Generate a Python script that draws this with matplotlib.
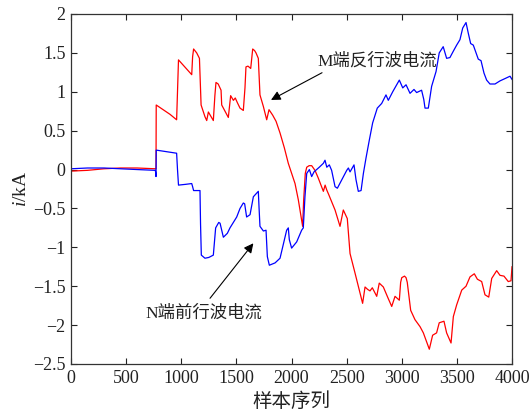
import matplotlib
matplotlib.use("Agg")
import matplotlib.pyplot as plt

plt.rcParams['font.family'] = ['Liberation Serif', 'Noto Sans CJK SC']
plt.rcParams['mathtext.fontset'] = 'custom'
plt.rcParams['mathtext.rm'] = 'Liberation Serif'
plt.rcParams['mathtext.it'] = 'Liberation Serif:italic'

# M-end backward travelling-wave current (red)
red_x = [0, 150, 300, 450, 600, 765, 771, 773, 898, 958, 966, 975, 1095, 1103, 1112, 1140, 1165, 1180,
         1215, 1231, 1246, 1291, 1305, 1315, 1335, 1361, 1367, 1427, 1448, 1473, 1490, 1509, 1533, 1563,
         1578, 1587, 1605, 1630, 1648, 1665, 1678, 1699, 1714, 1745, 1775, 1796, 1829, 1860, 1896, 1935,
         1971, 2032, 2062, 2101, 2110, 2125, 2138, 2160, 2183, 2213, 2243, 2289, 2305, 2319, 2340, 2395,
         2440, 2470, 2506, 2531, 2576, 2645, 2667, 2690, 2712, 2733, 2773, 2796, 2833, 2878, 2909, 2939,
         2978, 2990, 3000, 3025, 3039, 3050, 3081, 3120, 3166, 3196, 3250, 3280, 3316, 3340, 3383, 3407,
         3447, 3468, 3498, 3544, 3583, 3619, 3658, 3686, 3725, 3755, 3789, 3816, 3861, 3891, 3927, 3966,
         3991, 4000]
red_y = [-0.02, -0.01, 0.01, 0.02, 0.02, 0.01, 0.01, 0.83, 0.71, 0.64, 1.0, 1.41, 1.22, 1.45, 1.55, 1.50,
         1.43, 0.83, 0.68, 0.63, 0.74, 0.63, 0.95, 1.12, 1.10, 1.02, 0.83, 0.67, 0.95, 0.89, 0.92, 0.86,
         0.79, 0.76, 1.05, 1.32, 1.33, 1.30, 1.55, 1.53, 1.50, 1.43, 0.96, 0.81, 0.64, 0.77, 0.70, 0.62,
         0.47, 0.28, 0.08, -0.18, -0.39, -0.73, -0.40, -0.05, 0.03, 0.05, 0.05, -0.01, -0.11, -0.28, -0.20,
         -0.26, -0.33, -0.52, -0.73, -0.52, -0.63, -1.08, -1.33, -1.72, -1.51, -1.54, -1.56, -1.52, -1.63,
         -1.46, -1.51, -1.66, -1.76, -1.63, -1.68, -1.45, -1.39, -1.37, -1.39, -1.45, -1.81, -1.93, -2.02,
         -2.10, -2.31, -2.13, -2.10, -1.97, -1.95, -2.10, -2.23, -1.89, -1.74, -1.55, -1.50, -1.38, -1.34,
         -1.41, -1.44, -1.61, -1.64, -1.40, -1.30, -1.36, -1.37, -1.44, -1.43, -1.25]

# N-end forward travelling-wave current (blue)
blue_x = [0, 150, 300, 450, 600, 765, 769, 771, 773, 958, 966, 975, 1040, 1095, 1103, 1112, 1170, 1175,
          1182, 1215, 1250, 1291, 1300, 1312, 1340, 1352, 1367, 1382, 1418, 1442, 1503, 1533, 1563, 1575,
          1593, 1624, 1654, 1699, 1706, 1714, 1745, 1769, 1775, 1781, 1799, 1851, 1896, 1956, 1971, 1980,
          2001, 2047, 2092, 2107, 2122, 2138, 2162, 2183, 2204, 2252, 2289, 2304, 2320, 2343, 2364, 2395,
          2416, 2501, 2516, 2531, 2567, 2585, 2606, 2631, 2652, 2676, 2706, 2736, 2778, 2818, 2857, 2878,
          2918, 2978, 3009, 3039, 3075, 3111, 3135, 3180, 3200, 3211, 3241, 3271, 3311, 3340, 3376, 3407,
          3437, 3467, 3498, 3528, 3553, 3583, 3604, 3625, 3649, 3694, 3719, 3746, 3770, 3800, 3846, 3891,
          3937, 3982, 4000]
blue_y = [0.01, 0.02, 0.02, 0.01, 0.0, -0.01, -0.05, -0.09, 0.25, 0.21, 0.0, -0.20, -0.19, -0.18, -0.22,
          -0.27, -0.27, -0.70, -1.10, -1.14, -1.13, -1.10, -0.95, -0.75, -0.68, -0.69, -0.78, -0.87, -0.82,
          -0.75, -0.61, -0.50, -0.43, -0.44, -0.61, -0.58, -0.35, -0.28, -0.50, -0.73, -0.79, -0.78, -0.95,
          -1.12, -1.23, -1.20, -1.14, -0.78, -0.75, -0.90, -1.01, -0.93, -0.78, -0.75, -0.35, -0.05, 0.0,
          -0.09, -0.03, 0.03, 0.08, 0.12, 0.03, 0.06, -0.01, -0.22, -0.24, -0.01, 0.02, -0.03, 0.06, -0.13,
          -0.28, -0.27, -0.05, 0.15, 0.38, 0.60, 0.79, 0.85, 0.96, 0.89, 1.00, 1.15, 1.05, 1.09, 0.98, 1.03,
          0.99, 1.02, 0.90, 0.79, 0.79, 1.07, 1.26, 1.50, 1.58, 1.43, 1.44, 1.52, 1.60, 1.67, 1.82, 1.89,
          1.75, 1.62, 1.60, 1.42, 1.40, 1.24, 1.15, 1.10, 1.10, 1.14, 1.17, 1.20, 1.16]

x_ticks = [0, 500, 1000, 1500, 2000, 2500, 3000, 3500, 4000]
y_ticks = [-2.5, -2, -1.5, -1, -0.5, 0, 0.5, 1, 1.5, 2]
y_tick_labels = ['\u22122.5', '\u22122', '\u22121.5', '\u22121', '\u22120.5', '0', '0.5', '1', '1.5', '2']

fig = plt.figure(figsize=(5.31, 4.15), dpi=100)
ax = fig.add_axes([71 / 531, 1 - 364 / 415, (512 - 71) / 531, (364 - 14) / 415])

ax.plot(red_x, red_y, color='#ff0000', lw=0.9)
ax.plot(blue_x, blue_y, color='#0000ff', lw=0.9)

ax.set_xlim(0, 4000)
ax.set_ylim(-2.5, 2)
ax.set_xticks(x_ticks)
ax.set_yticks(y_ticks)
ax.set_yticklabels(y_tick_labels)
ax.tick_params(direction='in', top=True, right=True, labelsize=13, length=4, width=0.8, colors='#222222',
               labelcolor='#222222', pad=4)
for s in ax.spines.values():
    s.set_linewidth(0.9)
    s.set_color('#333333')

ax.set_xlabel('样本序列', fontsize=14, color='#222222', labelpad=4)
ax.set_ylabel('$\\it{i}$/kA', fontsize=14, color='#222222', labelpad=2)

arrow_kw = dict(arrowstyle='-|>', color='black', lw=0.8, mutation_scale=14, shrinkA=0, shrinkB=0)
ax.annotate('', xy=(1814, 0.895), xytext=(2277, 1.245), arrowprops=arrow_kw)
ax.text(2231, 1.29, 'M端反行波电流', fontsize=12.5, color='#222222', ha='left', va='bottom')
ax.annotate('', xy=(1654, -0.948), xytext=(1261, -1.655), arrowprops=arrow_kw)
ax.text(1206, -1.75, 'N端前行波电流', fontsize=12.5, color='#222222', ha='center', va='top')

fig.savefig('out.png', dpi=100)
